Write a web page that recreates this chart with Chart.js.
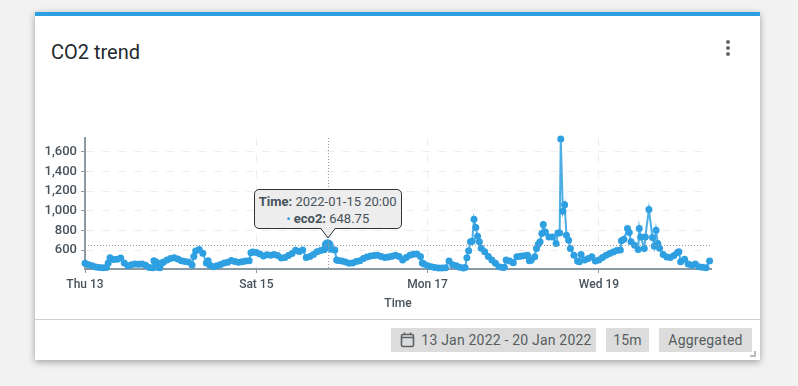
<!DOCTYPE html>
<html><head><meta charset="utf-8">
<script src="https://cdn.jsdelivr.net/npm/chart.js@4/dist/chart.umd.min.js"></script>
<style>
html,body{margin:0;padding:0;width:798px;height:386px;overflow:hidden;background:#f2f2f2;font-family:Roboto,sans-serif;}
#card{position:absolute;left:35px;top:12px;width:725px;height:348px;background:#fff;box-sizing:border-box;border-top:4px solid #2b9fe0;box-shadow:0 2px 7px rgba(0,0,0,.35);}
#title{position:absolute;left:51px;top:39px;font-size:20px;line-height:26px;color:#23292e;font-weight:400;}
.dot{position:absolute;left:726px;width:4px;height:4px;border-radius:50%;background:#626b70;}
#foot{position:absolute;left:35px;top:319px;width:725px;height:1px;background:#d0d0d0;}
.btn{position:absolute;top:328px;height:24px;line-height:24px;background:#dcdcdc;color:#565c60;font-size:14px;text-align:center;letter-spacing:.2px;}
#grip{position:absolute;left:750px;top:351px;width:6px;height:6px;border-right:2px solid #bbb;border-bottom:2px solid #bbb;box-sizing:border-box;}
canvas{position:absolute;left:0;top:0;}
#tip{position:absolute;display:none;width:148px;height:39.5px;box-sizing:border-box;background:#ededed;border:1px solid #2d3338;border-radius:5px;text-align:center;font-size:13px;line-height:17px;color:#47525b;padding-top:3px;white-space:nowrap;}
#tip b{font-weight:700;}
#tip i{font-style:normal;color:#2ea0e2;}
#caret{position:absolute;display:none;}
</style></head><body>
<div id="card"></div>
<div id="title">CO2 trend</div>
<div class="dot" style="top:40px"></div><div class="dot" style="top:46px"></div><div class="dot" style="top:52px"></div>
<div id="foot"></div>
<div class="btn" style="left:391px;width:205px;padding-left:26px;box-sizing:border-box">13 Jan 2022 - 20 Jan 2022</div>
<svg style="position:absolute;left:400px;top:331px" width="16" height="18" viewBox="0 0 16 18"><rect x="1.5" y="3.5" width="12" height="12" rx="1.5" fill="none" stroke="#5c6266" stroke-width="1.6"/><path d="M1.5 6.5H13.5M4.5 1.5V4M10.5 1.5V4" stroke="#5c6266" stroke-width="1.6" fill="none"/></svg>
<div class="btn" style="left:606px;width:43px">15m</div>
<div class="btn" style="left:659px;width:93px">Aggregated</div>
<div id="grip"></div>
<canvas id="c" width="798" height="386"></canvas>
<div id="tip"></div>
<svg id="caret" width="16" height="11" viewBox="0 0 16 11"><path d="M0.5 0 L8 10 L15.5 0" fill="#ededed" stroke="#2d3338" stroke-width="1"/></svg>
<script>
const seriesName = 'eco2';
const xTickHours = [0,48,96,144];
const xTickLabels = ['Thu 13','Sat 15','Mon 17','Wed 19'];
const yTicks = [600,800,1000,1200,1400,1600];
const hours = [0,1,2,3,4,5,6,6.5,7,8,9,10,11,12,13,14,15,16,17,18,19,19.3,20,20.5,21,21.5,22,23,24,25,26,27,28,29,30,30.5,31,32,33,34,34.5,35,36,37,38,39,40,41,42,43,44,45,46,46.5,47,48,49,50,51,52,53,54,55,56,57,58,59,60,61,62,63,64,65,66,67,67.5,68,68.5,69,70,70.5,71,72,73,74,75,76,77,78,79,80,81,82,83,84,85,86,87,88,89,90,91,92,93,94,94.5,95,96,97,98,99,100,101,102,103,104,105,106,106.5,107,107.5,108,108.5,109,109.5,110,110.5,111,112,113,114,115,116,117,117.5,118,119,120,121,122,123,124,124.5,125,126,126.5,127,127.5,128,128.4,129,130,131,132,132.5,133,133.3,133.9,134.4,134.9,135.5,136,137,138,138.5,139,140,141,142,143,144,145,146,147,148,149,150,150.3,151,152,152.5,153,154,155,155.3,155.7,156.7,157,158,159,159.5,160,160.5,161,162,163,164,165,166,166.4,166.9,168,169,170,171,172,173,174,175];
const eco2 = [466,452,440,428,422,420,424,470,522,505,508,520,470,441,452,458,456,458,445,424,420,492,480,424,420,470,480,499,515,522,510,492,485,478,448,535,590,607,567,470,492,445,431,441,455,470,476,495,485,476,482,489,492,573,580,575,560,540,552,549,556,545,520,525,545,565,598,585,600,525,535,555,583,595,605,635,648.75,640,610,600,499,495,489,478,466,470,485,492,515,530,540,545,549,535,526,530,538,548,535,500,525,549,558,560,535,470,460,440,430,423,419,418,420,490,450,440,426,419,422,522,593,684,691,913,829,741,684,620,583,535,500,466,432,422,426,499,490,472,532,538,543,549,492,498,532,617,660,684,770,860,785,734,734,668,775,775,1731,994,1061,750,700,617,549,490,482,556,499,515,532,489,500,525,549,565,580,595,600,694,710,819,779,684,650,607,819,734,617,734,1014,728,640,802,668,620,555,530,526,545,575,583,482,506,460,445,458,432,425,420,489];
const activeHour = 68;
const points = hours.map((h,i)=>({x:h,y:eco2[i]}));
const blue = '#2ea0e2', ink = '#47525b', axisGrey = '#8b99a3';
const fontFamily = 'Roboto, sans-serif';

function fmtTime(h){
  const d = new Date(Date.UTC(2022,0,13) + h*3600000);
  return d.toISOString().slice(0,16).replace('T',' ');
}
const crosshair = {
  id:'crosshair',
  afterDatasetsDraw(chart){
    const a = chart.getActiveElements()[0]; if(!a) return;
    const {ctx,chartArea:ca} = chart;
    ctx.save();
    ctx.setLineDash([1,2]); ctx.strokeStyle='#9a9a9a'; ctx.lineWidth=1;
    ctx.beginPath();
    ctx.moveTo(Math.round(a.element.x)+.5,ca.top); ctx.lineTo(Math.round(a.element.x)+.5,ca.bottom);
    ctx.moveTo(ca.left,Math.round(a.element.y)+.5); ctx.lineTo(ca.right,Math.round(a.element.y)+.5);
    ctx.stroke(); ctx.restore();
  }
};
function externalTip(ctx){
  const t = ctx.tooltip, el = document.getElementById('tip'), car = document.getElementById('caret');
  if(!t.opacity || !t.dataPoints || !t.dataPoints.length){el.style.display='none';car.style.display='none';return;}
  const dp = t.dataPoints[0];
  el.innerHTML = '<b>Time:</b> '+fmtTime(dp.parsed.x)+'<br><i>&#8226;</i> <b>'+seriesName+':</b> '+dp.parsed.y;
  el.style.display='block'; car.style.display='block';
  el.style.left=(t.caretX-74)+'px'; el.style.top=(t.caretY-56)+'px';
  car.style.left=(t.caretX-8)+'px'; car.style.top=(t.caretY-17.5)+'px';
}
const chart = new Chart(document.getElementById('c'),{
  type:'line',
  data:{datasets:[{label:seriesName,data:points,borderColor:'rgba(46,160,226,.85)',backgroundColor:blue,borderWidth:2,tension:0,clip:false,
    pointRadius:3.5,pointBackgroundColor:blue,pointBorderWidth:0,pointHoverRadius:6,pointHoverBackgroundColor:blue,pointHoverBorderWidth:0}]},
  options:{
    responsive:false,devicePixelRatio:1,animation:false,events:[],
    layout:{padding:{left:35,top:138,right:87,bottom:75}},
    plugins:{legend:{display:false},title:{display:false},tooltip:{enabled:false,external:externalTip}},
    scales:{
      x:{type:'linear',min:0,max:175.4,
        afterBuildTicks(s){s.ticks=xTickHours.map(v=>({value:v}));},
        afterFit(s){s.height=42;},
        grid:{color:'#eeeeee',tickColor:axisGrey,tickLength:4},
        border:{color:axisGrey,width:2,dash:[8,8]},
        ticks:{color:ink,font:{family:fontFamily,size:12,weight:'500'},maxRotation:0,padding:5,
          callback(v){const i=xTickHours.indexOf(v);return i<0?null:xTickLabels[i];}},
        title:{display:true,text:'Time',color:ink,font:{family:fontFamily,size:12,weight:'500'},padding:{top:0,bottom:0}}
      },
      y:{type:'linear',min:408,max:1740,
        afterBuildTicks(s){s.ticks=yTicks.map(v=>({value:v}));},
        afterFit(s){s.width=50;},
        grid:{color:'#eeeeee',tickColor:axisGrey,tickLength:4},
        border:{color:axisGrey,width:2,dash:[8,8]},
        ticks:{color:ink,font:{family:fontFamily,size:13,weight:'500'},padding:4,
          callback(v){return v.toLocaleString('en-US');}}
      }
    }
  },
  plugins:[crosshair]
});
const idx = hours.indexOf(activeHour);
const act = [{datasetIndex:0,index:idx}];
chart.setActiveElements(act);
chart.tooltip.setActiveElements(act,{x:0,y:0});
chart.update();
</script>
</body></html>
